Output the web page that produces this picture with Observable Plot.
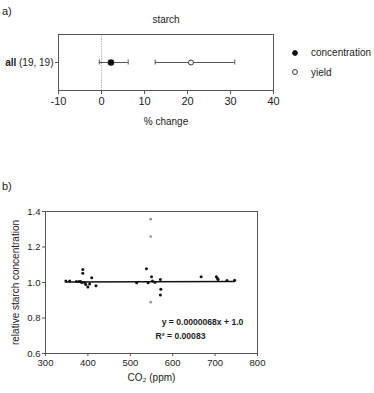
<!DOCTYPE html>
<html>
<head>
<meta charset="utf-8">
<script src="https://cdn.jsdelivr.net/npm/d3@7"></script>
<script src="https://cdn.jsdelivr.net/npm/@observablehq/plot@0.6"></script>
<style>
  body { margin: 0; background: #fff; font-family: "Liberation Sans", Arial, sans-serif; color: #222; }
  #chart { position: relative; width: 374px; height: 393px; overflow: hidden; }
  .panel { position: absolute; left: 0; }
  .tag { position: absolute; left: 2px; font-size: 11px; line-height: 1; }
  .legend { position: absolute; left: 288px; font-size: 10px; }
  .legend div { display: flex; align-items: center; height: 19.5px; }
  .legend svg { margin-right: 9px; }
</style>
</head>
<body>
<div id="chart"></div>
<script>
// ---- Panel a: mean % change with confidence interval ----
const groupLabel = "all";
const groupCounts = "(19, 19)";
const metrics = ["concentration", "yield"];
const effect = [2.2, 20.8];
const ciLow = [-0.5, 12.5];
const ciHigh = [6.2, 31.0];
const pctTicks = [-10, 0, 10, 20, 30, 40];

// ---- Panel b: relative starch concentration vs CO2 ----
const co2 = [348, 357, 373, 379, 383, 385, 388, 388, 392, 395, 400, 404, 409, 419,
             515, 538, 542, 550, 552, 558, 571, 572, 571, 667, 703, 706, 707, 728, 746];
const relConc = [1.009, 1.009, 1.005, 1.005, 1.005, 1.0, 1.073, 1.052, 1.0, 0.989, 0.974, 0.991, 1.027, 0.981,
                 0.999, 1.077, 0.998, 1.032, 1.009, 1.002, 1.017, 0.962, 0.929, 1.032, 1.032, 1.023, 1.017, 1.011, 1.013];
const co2Grey = [548, 548, 548];
const relConcGrey = [1.357, 1.259, 0.889];
const slope = 0.0000068;
const intercept = 1.0;
const r2 = 0.00083;
const co2Ticks = [300, 400, 500, 600, 700, 800];
const concTicks = [0.6, 0.8, 1.0, 1.2, 1.4];

const font = '"Liberation Sans", Arial, sans-serif';
const axisGrey = "#555";

const forest = metrics.map((m, i) => ({metric: m, row: groupLabel, est: effect[i], lo: ciLow[i], hi: ciHigh[i]}));

const plotA = Plot.plot({
  width: 374, height: 140,
  marginLeft: 58, marginRight: 101, marginTop: 34, marginBottom: 50,
  style: {fontFamily: font, fontSize: "11px", color: "#222", background: "white", overflow: "visible"},
  x: {domain: [-10, 40]},
  y: {type: "band", domain: [groupLabel], padding: 0},
  marks: [
    Plot.ruleX([0], {stroke: "#aaa", strokeDasharray: "1.2,1.2"}),
    Plot.frame({stroke: axisGrey}),
    Plot.ruleY(forest, {x1: "lo", x2: "hi", y: "row", stroke: axisGrey, strokeWidth: 1}),
    Plot.tickX(forest, {x: "lo", y: "row", insetTop: 25.5, insetBottom: 25.5, stroke: axisGrey}),
    Plot.tickX(forest, {x: "hi", y: "row", insetTop: 25.5, insetBottom: 25.5, stroke: axisGrey}),
    Plot.dot(forest.filter(d => d.metric === "concentration"), {x: "est", y: "row", r: 2.5, fill: "#111", stroke: "#111"}),
    Plot.dot(forest.filter(d => d.metric === "yield"), {x: "est", y: "row", r: 2.5, fill: "white", stroke: "#333", strokeWidth: 1}),
    Plot.axisX({ticks: pctTicks, tickFormat: d => String(d), tickSize: 4, tickPadding: 3, label: null, stroke: axisGrey, fontSize: 11}),
    Plot.axisY({tickSize: 3, tickPadding: 2, label: null, stroke: axisGrey, fontSize: 10}),
    Plot.text(["starch"], {frameAnchor: "top", dy: -19, fontSize: 10}),
    Plot.text(["% change"], {frameAnchor: "bottom", dy: 34, fontSize: 10})
  ]
});

// Row label: bold group name followed by the sample counts
d3.select(plotA).selectAll('[aria-label="y-axis tick label"] text').each(function () {
  const t = d3.select(this);
  t.text(null);
  t.append("tspan").attr("font-weight", "bold").text(groupLabel);
  t.append("tspan").text(" " + groupCounts);
});

const points = co2.map((x, i) => ({x, y: relConc[i]}));
const greyPoints = co2Grey.map((x, i) => ({x, y: relConcGrey[i]}));
const [xMin, xMax] = d3.extent(co2);
const fit = [xMin, xMax].map(x => ({x, y: intercept + slope * x}));

const plotB = Plot.plot({
  width: 374, height: 203,
  marginLeft: 45, marginRight: 117, marginTop: 21, marginBottom: 40,
  style: {fontFamily: font, fontSize: "9.5px", color: "#222", background: "white", overflow: "visible"},
  x: {domain: [300, 800]},
  y: {domain: [0.6, 1.4]},
  marks: [
    Plot.frame({stroke: axisGrey}),
    Plot.line(fit, {x: "x", y: "y", stroke: "#111", strokeWidth: 1.5}),
    Plot.dot(points, {x: "x", y: "y", r: 1.5, fill: "#111"}),
    Plot.dot(greyPoints, {x: "x", y: "y", r: 1.4, fill: "#999"}),
    Plot.axisX({ticks: co2Ticks, tickSize: 3, tickPadding: 3, label: null, stroke: axisGrey, fontSize: 9.5}),
    Plot.axisY({ticks: concTicks, tickSize: 3, tickPadding: 2, tickFormat: d3.format(".1f"), label: null, stroke: axisGrey, fontSize: 9.5}),
    Plot.text(["CO₂ (ppm)"], {frameAnchor: "bottom", dy: 27, fontSize: 10}),
    Plot.text(["relative starch concentration"], {frameAnchor: "left", textAnchor: "middle", rotate: -90, dx: -30, fontSize: 10}),
    Plot.text([`y = ${slope.toFixed(7)}x + ${intercept.toFixed(1)}`], {frameAnchor: "bottom", dx: 51, dy: -29, fontSize: 8.6, fontWeight: "bold"}),
    Plot.text([`R² = ${r2}`], {frameAnchor: "bottom", dx: 29, dy: -15, fontSize: 8.6, fontWeight: "bold"})
  ]
});

const chart = document.getElementById("chart");
plotA.classList.add("panel"); plotA.style.top = "0px";
plotB.classList.add("panel"); plotB.style.top = "190px";
chart.append(plotA, plotB);

// Panel tags
for (const [txt, top] of [["a)", 6], ["b)", 181]]) {
  const el = document.createElement("div");
  el.className = "tag"; el.textContent = txt; el.style.top = top + "px";
  chart.append(el);
}

// Legend for panel a
const legend = document.createElement("div");
legend.className = "legend";
legend.style.top = "43px";
metrics.forEach(m => {
  const row = document.createElement("div");
  const filled = m === "concentration";
  row.innerHTML = `<svg width="14" height="8" viewBox="-7 -4 14 8"><circle r="2.4" fill="${filled ? "#111" : "white"}" stroke="${filled ? "#111" : "#333"}" stroke-width="1"></circle></svg><span>${m}</span>`;
  legend.append(row);
});
chart.append(legend);
</script>
</body>
</html>
